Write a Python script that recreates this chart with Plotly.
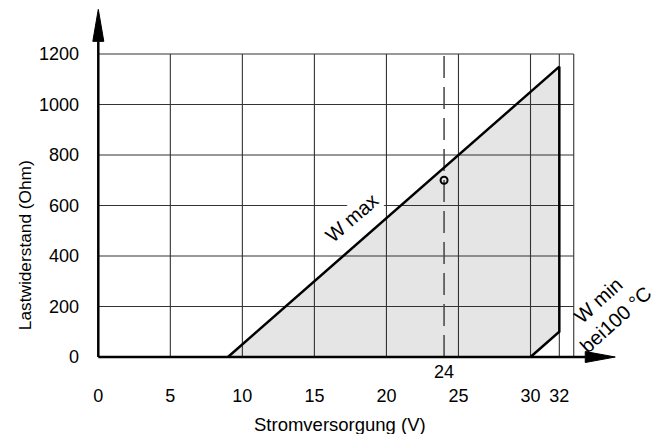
import plotly.graph_objects as go

# ---- data ----
x_ticks = [0, 5, 10, 15, 20, 25, 30, 32]
y_ticks = [0, 200, 400, 600, 800, 1000, 1200]
x_grid = [5, 10, 15, 20, 25, 30, 32, 33]
y_grid = [200, 400, 600, 800, 1000, 1200]
grid_x_max = 33
grid_y_max = 1200

# operating area polygon (supply voltage V, load resistance Ohm)
area_v = [9, 32, 32, 30, 9]
area_r = [0, 1150, 100, 0, 0]
# W max line
wmax_v = [9, 32]
wmax_r = [0, 1150]
# W min (bei 100 °C) edge
wmin_v = [30, 32, 32]
wmin_r = [0, 100, 1150]
# operating point at 24 V
op_v = [24]
op_r = [700]
ref_v = 24

axis_x_end = 33.8
axis_y_end = 1250

FONT = "Liberation Sans, Arial, sans-serif"
FS = 18

fig = go.Figure()

# filled area
fig.add_trace(go.Scatter(x=area_v, y=area_r, mode="lines", fill="toself",
                         fillcolor="#e5e5e5", line=dict(width=0), hoverinfo="skip"))

# grid
gx, gy = [], []
for v in x_grid:
    gx += [v, v, None]
    gy += [0, grid_y_max, None]
for r in y_grid:
    gx += [0, grid_x_max, None]
    gy += [r, r, None]
fig.add_trace(go.Scatter(x=gx, y=gy, mode="lines", line=dict(color="#333333", width=1.1),
                         hoverinfo="skip"))

# dashed reference line at 24 V
fig.add_trace(go.Scatter(x=[ref_v, ref_v], y=[0, grid_y_max], mode="lines",
                         line=dict(color="#444444", width=1.5, dash="22px,9px"), hoverinfo="skip"))

# axes lines
fig.add_trace(go.Scatter(x=[0, axis_x_end], y=[0, 0], mode="lines",
                         line=dict(color="black", width=2.5), hoverinfo="skip"))
fig.add_trace(go.Scatter(x=[0, 0], y=[0, axis_y_end], mode="lines",
                         line=dict(color="black", width=2.5), hoverinfo="skip"))

# W max and W min edges
fig.add_trace(go.Scatter(x=wmax_v, y=wmax_r, mode="lines",
                         line=dict(color="black", width=2.5), hoverinfo="skip"))
fig.add_trace(go.Scatter(x=wmin_v, y=wmin_r, mode="lines",
                         line=dict(color="black", width=2.5), hoverinfo="skip"))

# operating point
fig.add_trace(go.Scatter(x=op_v, y=op_r, mode="markers",
                         marker=dict(symbol="circle-open", size=7, color="black",
                                     line=dict(width=2)), hoverinfo="skip"))

# arrow heads
fig.add_shape(type="path", xref="x", yref="y", xsizemode="pixel", ysizemode="pixel",
              xanchor=0, yanchor=axis_y_end, path="M-5.5,0 L5.5,0 L0,32 Z",
              fillcolor="black", line=dict(color="black", width=1))
fig.add_shape(type="path", xref="x", yref="y", xsizemode="pixel", ysizemode="pixel",
              xanchor=axis_x_end, yanchor=0, path="M0,-5.5 L0,5.5 L30,0 Z",
              fillcolor="black", line=dict(color="black", width=1))

# labels
fig.add_annotation(x=17.6, y=549, xref="x", yref="y", text="W max", showarrow=False,
                   textangle=-41, bgcolor="white", borderpad=1,
                   font=dict(family=FONT, size=20, color="black"))
fig.add_annotation(x=35.3, y=186, xref="x", yref="y", text="W min<br>bei100 °C",
                   showarrow=False, textangle=-42,
                   font=dict(family=FONT, size=20, color="black"))
fig.add_annotation(x=ref_v, y=0, xref="x", yref="y", text=str(ref_v), showarrow=False,
                   yanchor="middle", yshift=-15, font=dict(family=FONT, size=FS, color="black"))
fig.add_annotation(x=0.455, y=-0.164, xref="paper", yref="paper", text="Stromversorgung (V)",
                   showarrow=False, yanchor="middle",
                   font=dict(family=FONT, size=18.5, color="black"))
fig.add_annotation(x=-0.118, y=0.333, xref="paper", yref="paper", text="Lastwiderstand (Ohm)",
                   showarrow=False, textangle=-90, xanchor="center", yanchor="middle",
                   font=dict(family=FONT, size=17.3, color="black"))

fig.update_layout(
    template="none",
    width=663, height=434,
    margin=dict(l=90, r=23, t=5, b=69),
    plot_bgcolor="white", paper_bgcolor="white",
    showlegend=False,
    font=dict(family=FONT, size=FS, color="black"),
    xaxis=dict(range=[-0.576, 37.6], showgrid=False, zeroline=False, showline=False,
               tickvals=x_ticks, ticktext=[str(v) for v in x_ticks], ticks="",
               ticklabelstandoff=18, automargin=False, fixedrange=True),
    yaxis=dict(range=[-31.7, 1394], showgrid=False, zeroline=False, showline=False,
               tickvals=y_ticks, ticktext=[str(v) for v in y_ticks], ticks="",
               ticklabelstandoff=10, automargin=False, fixedrange=True),
)

fig.write_html("out.html", config={"displayModeBar": False},
               post_script="document.body.style.margin='0';document.body.style.overflow='hidden';")
